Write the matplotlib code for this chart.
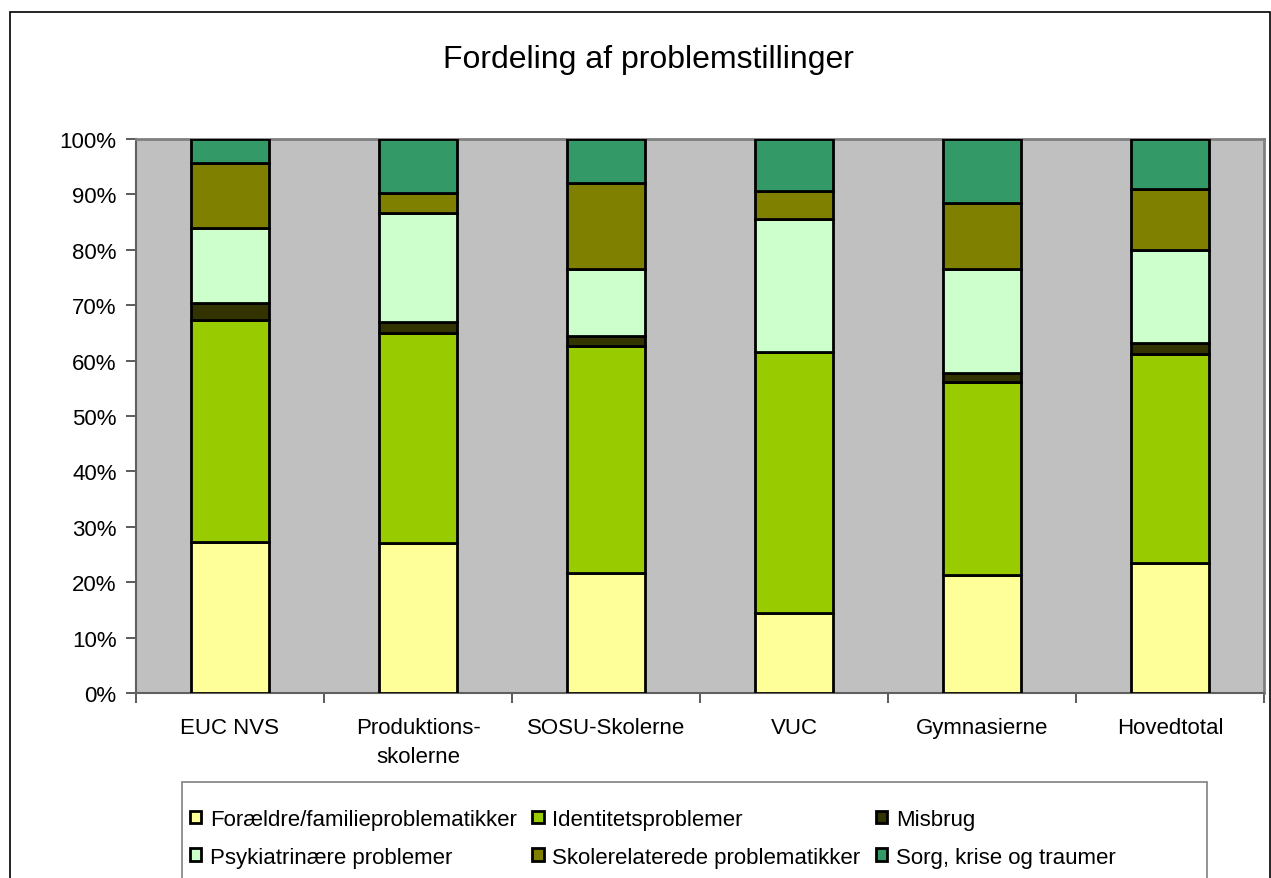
import matplotlib
matplotlib.use('Agg')
import matplotlib.pyplot as plt
import numpy as np
from matplotlib.patches import Rectangle, Patch
from matplotlib.ticker import FixedLocator, PercentFormatter

plt.rcParams['font.family'] = ['Liberation Sans', 'DejaVu Sans']

# categories and stacked shares (percent of each bar)
skoler = ['EUC NVS', 'Produktions-\nskolerne', 'SOSU-Skolerne', 'VUC', 'Gymnasierne', 'Hovedtotal']
foraeldre = [27.3, 27.0, 21.6, 14.4, 21.3, 23.4]
identitet = [40.1, 38.0, 41.1, 47.2, 34.9, 37.8]
misbrug = [3.0, 2.0, 1.8, 0.0, 1.5, 1.9]
psykiatri = [13.6, 19.6, 12.0, 23.9, 18.8, 16.9]
skolerel = [11.6, 3.7, 15.6, 5.1, 11.9, 10.9]
sorg = [4.4, 9.7, 7.9, 9.4, 11.6, 9.1]

serie_navne = ['Forældre/familieproblematikker', 'Identitetsproblemer', 'Misbrug',
               'Psykiatrinære problemer', 'Skolerelaterede problematikker', 'Sorg, krise og traumer']
farver = ['#FFFF99', '#99CC00', '#333300', '#CCFFCC', '#808000', '#339966']

W, H = 1271, 879
fig = plt.figure(figsize=(W / 100, H / 100), dpi=100)
ax = fig.add_axes([136 / W, 1 - 694 / H, (1264 - 136) / W, (694 - 140) / H])
ax.set_facecolor('#C0C0C0')

x = np.arange(len(skoler))
serier = [foraeldre, identitet, misbrug, psykiatri, skolerel, sorg]
bund = np.zeros(len(skoler))
handles = []
for vals, navn, farve in zip(serier, serie_navne, farver):
    vals = np.array(vals)
    ax.bar(x, vals, 0.41, bottom=bund, color=farve, edgecolor='black', linewidth=2.0, zorder=3)
    bund = bund + vals
    handles.append(Patch(facecolor=farve, edgecolor='black', linewidth=2.0, label=navn))

ax.set_xlim(-0.5, len(skoler) - 0.5)
ax.set_ylim(0, 100)
ax.yaxis.set_major_locator(FixedLocator(np.arange(0, 101, 10)))
ax.yaxis.set_major_formatter(PercentFormatter(decimals=0))
ax.tick_params(axis='y', labelsize=16, length=7, width=1.2, color='#404040', pad=7)

ax.set_xticks(x)
ax.set_xticklabels(skoler, fontsize=16, linespacing=1.5)
ax.set_xticks(np.arange(-0.5, len(skoler)), minor=True)
ax.tick_params(axis='x', which='major', length=0, pad=17)
ax.tick_params(axis='x', which='minor', length=7, width=1.2, color='#404040')

for side in ['top', 'right']:
    ax.spines[side].set_color('#808080')
    ax.spines[side].set_linewidth(2)
for side in ['left', 'bottom']:
    ax.spines[side].set_color('#606060')
    ax.spines[side].set_linewidth(1.5)

fig.text(648 / W, 1 - 60 / H, 'Fordeling af problemstillinger', fontsize=23, ha='center', va='center')

# legend in Excel row order: three columns
orden = [0, 3, 1, 4, 2, 5]
fig.legend([handles[i] for i in orden], [serie_navne[i] for i in orden], ncol=3,
           loc='upper left', bbox_to_anchor=(190 / W, 1 - 810 / H), frameon=False,
           fontsize=16, handlelength=0.5, handleheight=0.5, handletextpad=0.4,
           columnspacing=0.7, labelspacing=0.75, borderpad=0, borderaxespad=0)

fig.patches.append(Rectangle((182 / W, -0.05), (1207 - 182) / W, 0.05 + 1 - 783 / H,
                             transform=fig.transFigure, fill=False, edgecolor='#808080', linewidth=1.2))
fig.patches.append(Rectangle((9.5 / W, -0.05), (1269.5 - 9.5) / W, 0.05 + 1 - 12.7 / H,
                             transform=fig.transFigure, fill=False, edgecolor='black', linewidth=1.2))

fig.savefig('out.png', dpi=100)
